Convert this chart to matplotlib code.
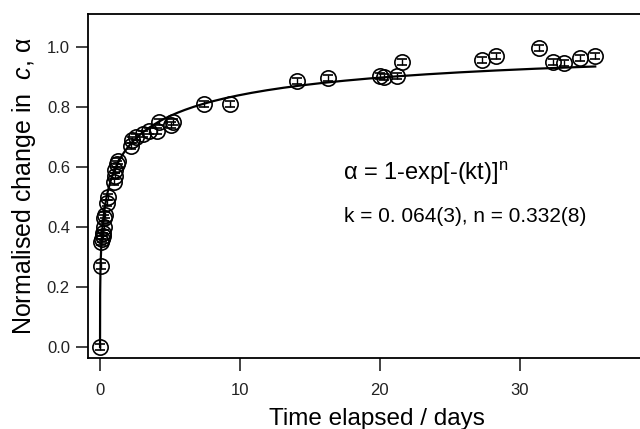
import numpy as np
import matplotlib
matplotlib.use("Agg")
import matplotlib.pyplot as plt

plt.rcParams["font.family"] = ["Liberation Sans", "DejaVu Sans"]
plt.rcParams["mathtext.fontset"] = "custom"
plt.rcParams["mathtext.rm"] = "Liberation Sans"
plt.rcParams["mathtext.it"] = "Liberation Sans:italic"

# measured points (time / days, normalised change)
t_days = [0.0, 0.05, 0.1, 0.15, 0.2, 0.2, 0.25, 0.3, 0.35, 0.5, 0.55,
          1.0, 1.1, 1.1, 1.2, 1.3, 2.2, 2.3, 2.6, 3.1, 3.5, 4.1, 4.2,
          5.1, 5.2, 7.4, 9.3, 14.1, 16.3, 20.0, 20.3, 21.2, 21.6,
          27.3, 28.3, 31.4, 32.4, 33.2, 34.3, 35.4]
alpha = [0.0, 0.27, 0.35, 0.36, 0.37, 0.38, 0.40, 0.43, 0.44, 0.48, 0.50,
         0.55, 0.57, 0.59, 0.61, 0.62, 0.67, 0.69, 0.70, 0.71, 0.72, 0.72, 0.75,
         0.74, 0.75, 0.81, 0.81, 0.887, 0.897, 0.905, 0.90, 0.905, 0.95,
         0.957, 0.97, 0.997, 0.95, 0.947, 0.963, 0.97]
alpha_err = 0.01

# Avrami-type fit line, parameters as drawn
k_fit = 0.674
n_fit = 0.318
t_fit = np.concatenate([[0.0], np.geomspace(1e-4, 35.4, 400)])
a_fit = 1 - np.exp(-(k_fit * t_fit) ** n_fit)

fig = plt.figure(figsize=(6.4, 4.29), dpi=100)
ax = fig.add_axes([0.1375, 0.165, 0.8625, 0.802])

ax.plot(t_fit, a_fit, color="black", lw=1.6, zorder=2)
ax.errorbar(t_days, alpha, yerr=alpha_err, fmt="o", ms=11, mfc="none",
            mec="black", mew=1.2, ecolor="black", elinewidth=1.0,
            capsize=3.5, capthick=1.0, zorder=3)

ax.set_xlim(-0.86, 38.6)
ax.set_ylim(-0.037, 1.11)
ax.set_xticks([0, 10, 20, 30])
ax.set_yticks([0.0, 0.2, 0.4, 0.6, 0.8, 1.0])
ax.set_yticklabels(["0.0", "0.2", "0.4", "0.6", "0.8", "1.0"])
ax.tick_params(direction="out", length=9, width=1.2, labelsize=12,
               colors="#222222", pad=4)
ax.tick_params(axis="x", pad=9)
ax.spines["right"].set_visible(False)
for s in ("left", "top", "bottom"):
    ax.spines[s].set_linewidth(1.3)

ax.set_xlabel("Time elapsed / days", fontsize=17.5)
ax.xaxis.set_label_coords(0.524, -0.145)
ax.set_ylabel("Normalised change in  $\\it{c}$, α", fontsize=18, labelpad=6)

ax.text(17.4, 0.58, "α = 1-exp[-(kt)]$^{\\mathrm{n}}$", fontsize=17,
        ha="left", va="center")
ax.text(17.45, 0.435, "k = 0. 064(3), n = 0.332(8)", fontsize=15,
        ha="left", va="center")

fig.savefig("out.png", dpi=100)
